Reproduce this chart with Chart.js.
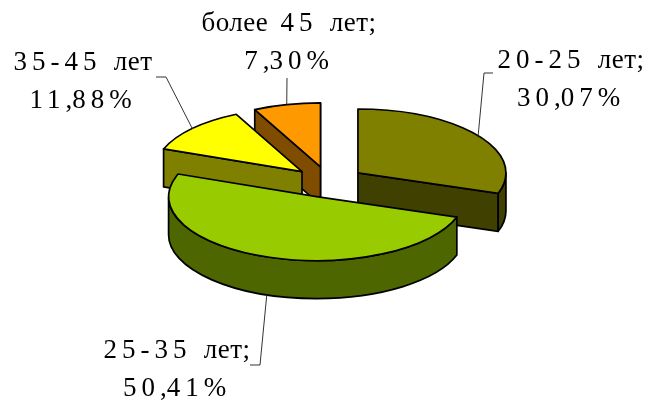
<!DOCTYPE html>
<html>
<head>
<meta charset="utf-8">
<style>
  html, body { margin: 0; padding: 0; background: #fff; }
  #wrap { width: 649px; height: 401px; }
</style>
<script src="https://cdn.jsdelivr.net/npm/chart.js@4"></script>
</head>
<body>
<div id="wrap"><canvas id="pieChart" width="649" height="401"></canvas></div>
<script>
const categories = ['20-25 лет;', '25-35 лет;', '35-45 лет', 'более 45 лет;'];
const shares = [30.07, 50.41, 11.88, 7.30];
const topColors = ['#808000', '#99cc00', '#ffff00', '#ff9900'];
const wallColors = ['#404000', '#4d6600', '#808000', '#804d00'];
const paintOrder = [0, 3, 2, 1];

const squash = 0.432;
const depth = 38;
const explode = 36;

// label centre x, first baseline y, then leader elbow points
const labelSpots = [
    { x: 571, y: 68, leader: [[493, 73], [484, 73]] },
    { x: 177, y: 358, leader: [[250, 365], [260, 365]] },
    { x: 83, y: 70, leader: [[156, 77], [166, 77]] },
    { x: 289, y: 31, leader: [[287, 78]] }
];

function sliceGeom(arc) {
    const p = arc.getProps(['x', 'y', 'startAngle', 'endAngle', 'outerRadius'], true);
    const mid = (p.startAngle + p.endAngle) / 2;
    const cx = p.x + Math.cos(mid) * explode;
    const cy = p.y;
    const oy = Math.sin(mid) * explode * squash;
    return {
        ...p,
        mid,
        dx: Math.cos(mid) * explode,
        oy,
        ax: cx,
        ay: cy + oy,
        at: (ang, r) => [cx + r * Math.cos(ang), cy + oy + r * squash * Math.sin(ang)]
    };
}

function fillStroke(ctx, color) {
    ctx.fillStyle = color;
    ctx.fill();
    ctx.stroke();
}

function edgeWall(ctx, g, ang, color) {
    const e = g.at(ang, g.outerRadius);
    ctx.beginPath();
    ctx.moveTo(g.ax, g.ay);
    ctx.lineTo(e[0], e[1]);
    ctx.lineTo(e[0], e[1] + depth);
    ctx.lineTo(g.ax, g.ay + depth);
    ctx.closePath();
    fillStroke(ctx, color);
}

function rimWall(ctx, g, color) {
    const from = Math.max(g.startAngle, 0);
    const to = Math.min(g.endAngle, Math.PI);
    if (to <= from) return;
    const rx = g.outerRadius, ry = g.outerRadius * squash;
    ctx.beginPath();
    ctx.ellipse(g.ax, g.ay, rx, ry, 0, from, to);
    ctx.ellipse(g.ax, g.ay + depth, rx, ry, 0, to, from, true);
    ctx.closePath();
    fillStroke(ctx, color);
}

function drawText(ctx, text, cx, y) {
    // digits are set wide in the picture, words are not, commas sit tight
    const runs = text.match(/[0-9%\-]+|,|\s+|[^0-9,%\-\s]+/g);
    const spacing = r => {
        if (r === ',') return '0px';
        if (/\s/.test(r)) return '5.5px';
        return /[0-9%\-]/.test(r) ? '5px' : '0.5px';
    };
    let total = 0;
    runs.forEach(r => {
        ctx.letterSpacing = spacing(r);
        total += ctx.measureText(r).width;
    });
    let x = cx - total / 2;
    runs.forEach(r => {
        ctx.letterSpacing = spacing(r);
        ctx.fillText(r, x, y);
        x += ctx.measureText(r).width;
    });
    ctx.letterSpacing = '0px';
}

const pie3d = {
    id: 'pie3d',
    beforeDatasetsDraw(chart) {
        const ctx = chart.ctx;
        const arcs = chart.getDatasetMeta(0).data;

        ctx.save();
        ctx.lineJoin = 'round';
        paintOrder.forEach(i => {
            const arc = arcs[i];
            const g = sliceGeom(arc);

            ctx.strokeStyle = '#000';
            ctx.lineWidth = 1.7;
            if (Math.cos(g.endAngle) > 0) edgeWall(ctx, g, g.endAngle, wallColors[i]);
            if (Math.cos(g.startAngle) < 0) edgeWall(ctx, g, g.startAngle, wallColors[i]);
            rimWall(ctx, g, wallColors[i]);

            // top face: the library's arc, squashed and pulled out
            ctx.save();
            ctx.translate(0, g.y);
            ctx.scale(1, squash);
            ctx.translate(0, -g.y);
            ctx.translate(g.dx, g.oy / squash);
            arc.draw(ctx);
            ctx.restore();

            ctx.beginPath();
            ctx.moveTo(g.ax, g.ay);
            ctx.ellipse(g.ax, g.ay, g.outerRadius, g.outerRadius * squash, 0, g.startAngle, g.endAngle);
            ctx.closePath();
            ctx.stroke();
        });

        ctx.strokeStyle = '#333';
        ctx.lineWidth = 1;
        arcs.forEach((arc, i) => {
            const g = sliceGeom(arc);
            const end = g.at(g.mid, g.outerRadius);
            if (Math.sin(g.mid) > 0) end[1] += depth;
            const pts = labelSpots[i].leader.concat([end]);
            ctx.beginPath();
            pts.forEach((p, k) => k ? ctx.lineTo(p[0], p[1]) : ctx.moveTo(p[0], p[1]));
            ctx.stroke();
        });

        ctx.fillStyle = '#000';
        ctx.font = '27px "Liberation Serif"';
        ctx.textBaseline = 'alphabetic';
        ctx.textAlign = 'left';
        categories.forEach((name, i) => {
            const spot = labelSpots[i];
            drawText(ctx, name, spot.x, spot.y);
            drawText(ctx, shares[i].toFixed(2).replace('.', ',') + '%', spot.x, spot.y + 37.5);
        });
        ctx.restore();
        return false;
    }
};

new Chart(document.getElementById('pieChart'), {
    type: 'pie',
    data: {
        labels: categories,
        datasets: [{
            data: shares,
            backgroundColor: topColors,
            borderWidth: 0
        }]
    },
    options: {
        responsive: false,
        animation: false,
        radius: 148,
        layout: { padding: { left: 8.4, bottom: 37 } },
        plugins: {
            legend: { display: false },
            tooltip: { enabled: false }
        }
    },
    plugins: [pie3d]
});
</script>
</body>
</html>
